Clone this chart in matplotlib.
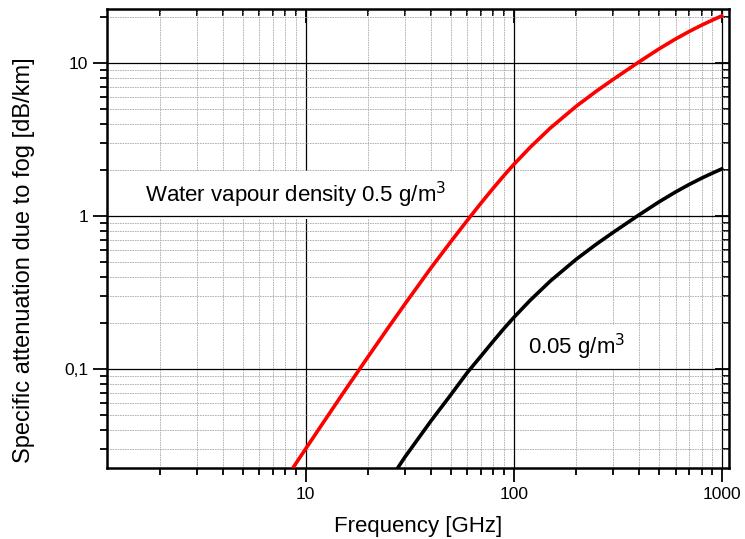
import matplotlib
import matplotlib.pyplot as plt
from matplotlib.ticker import FixedLocator, FixedFormatter, LogLocator, NullFormatter

matplotlib.use('Agg')
plt.rcParams['font.family'] = ['Liberation Sans', 'DejaVu Sans']

freq_red = [8, 9, 10, 12, 15, 20, 25, 30, 40, 50, 60, 70, 80, 90, 100, 120, 150,
            200, 250, 300, 400, 500, 600, 700, 800, 900, 1000]
att_red = [0.0190, 0.0242, 0.0300, 0.0434, 0.0681, 0.1205, 0.1866, 0.265, 0.456,
           0.681, 0.938, 1.222, 1.524, 1.841, 2.163, 2.805, 3.75, 5.21, 6.54,
           7.78, 10.14, 12.35, 14.33, 16.08, 17.63, 19.01, 20.27]
freq_black = [25, 30, 40, 50, 60, 70, 80, 90, 100, 120, 150, 200, 250, 300, 400,
              500, 600, 700, 800, 900, 1000]
att_black = [0.0182, 0.0265, 0.0456, 0.068, 0.095, 0.1222, 0.1524, 0.1841,
             0.2163, 0.2805, 0.375, 0.521, 0.654, 0.778, 1.014, 1.235, 1.433,
             1.608, 1.763, 1.901, 2.027]

x_ticks = [10, 100, 1000]
x_tick_labels = ['10', '100', '1000']
y_ticks = [0.1, 1, 10]
y_tick_labels = ['0,1', '1', '10']

fig = plt.figure(figsize=(7.45, 5.39), dpi=100)
ax = fig.add_axes([0.1436, 0.1317, 0.8349, 0.8516])

ax.plot(freq_red, att_red, color='#ff0000', lw=2.6, zorder=4,
        solid_joinstyle='round')
ax.plot(freq_black, att_black, color='black', lw=2.6, zorder=4,
        solid_joinstyle='round')

ax.set_xscale('log')
ax.set_yscale('log')
ax.set_xlim(1.11, 1084)
ax.set_ylim(0.0225, 22.5)

ax.xaxis.set_major_locator(FixedLocator(x_ticks))
ax.xaxis.set_major_formatter(FixedFormatter(x_tick_labels))
ax.yaxis.set_major_locator(FixedLocator(y_ticks))
ax.yaxis.set_major_formatter(FixedFormatter(y_tick_labels))
for axis in (ax.xaxis, ax.yaxis):
    axis.set_minor_locator(LogLocator(base=10, subs=range(2, 10)))
    axis.set_minor_formatter(NullFormatter())

# vertical grid and minor horizontal grid under the labels,
# major horizontal lines on top of the label boxes
ax.xaxis.grid(which='major', color='black', lw=0.9, ls='-')
ax.grid(which='minor', color='#a8a8a8', lw=0.6, ls=(0, (2, 1)))
for y in y_ticks:
    ax.axhline(y, color='black', lw=0.9, zorder=3.5)
ax.set_axisbelow(True)

for s in ax.spines.values():
    s.set_linewidth(1.8)

ax.tick_params(which='both', direction='out', width=1.3, labelsize=12.5,
               top=False, right=False)
ax.tick_params(which='major', length=10)
ax.tick_params(which='minor', length=5)

# inward ticks on top and right
sec_x = ax.secondary_xaxis('top')
sec_y = ax.secondary_yaxis('right')
sec_x.xaxis.set_major_locator(FixedLocator(x_ticks))
sec_y.yaxis.set_major_locator(FixedLocator(y_ticks))
sec_x.xaxis.set_minor_locator(LogLocator(base=10, subs=range(2, 10)))
sec_y.yaxis.set_minor_locator(LogLocator(base=10, subs=range(2, 10)))
for sec in (sec_x, sec_y):
    sec.tick_params(which='both', direction='in', width=1.3, labelsize=0)
    sec.tick_params(which='major', length=10)
    sec.tick_params(which='minor', length=5)
    for axis in (sec.xaxis, sec.yaxis):
        axis.set_major_formatter(NullFormatter())
        axis.set_minor_formatter(NullFormatter())
    for s in sec.spines.values():
        s.set_visible(False)

ax.set_xlabel('Frequency [GHz]', fontsize=16, labelpad=10)
ax.set_ylabel('Specific attenuation due to fog [dB/km]', fontsize=17)
ax.yaxis.set_label_coords(-0.116, 0.453)

ax.text(1.69, 1.37, 'Water vapour density 0.5 g/m$^3$', fontsize=16,
        va='center', ha='left', zorder=3,
        bbox=dict(boxstyle='square,pad=0.42', fc='white', ec='none'))
ax.text(117, 0.139, '0.05 g/m$^3$', fontsize=16, va='center', ha='left',
        zorder=3, bbox=dict(boxstyle='square,pad=0.3', fc='white', ec='none'))

plt.savefig('out.png', dpi=100)
